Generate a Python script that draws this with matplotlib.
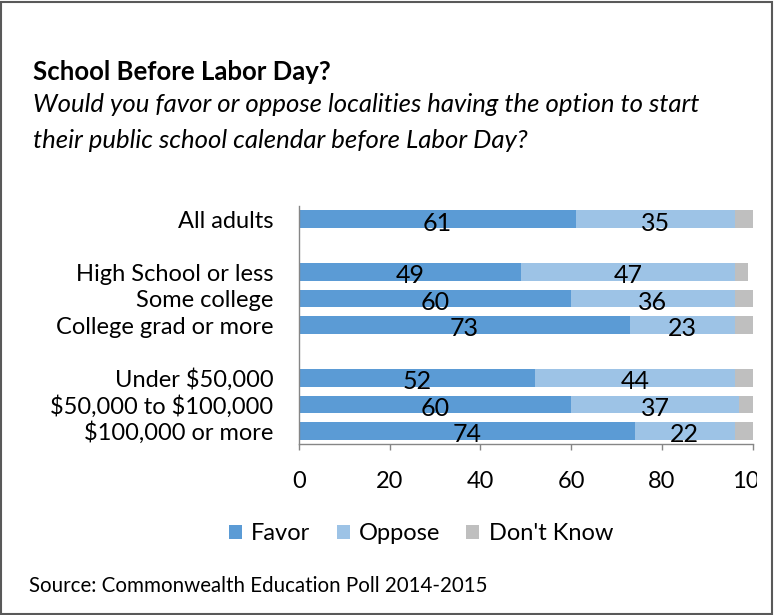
import matplotlib.pyplot as plt
import numpy as np
from matplotlib.patches import Rectangle
from matplotlib.transforms import Bbox, TransformedBbox

plt.rcParams['font.family'] = ['Lato', 'DejaVu Sans']

# data
categories = ['All adults', 'High School or less', 'Some college', 'College grad or more',
              'Under \\$50,000', '\\$50,000 to \\$100,000', '\\$100,000 or more']
slots = [0, 2, 3, 4, 6, 7, 8]  # blank slot between groups
favor = [61, 49, 60, 73, 52, 60, 74]
oppose = [35, 47, 36, 23, 44, 37, 22]
dont_know = [4, 3, 4, 5, 4, 3, 4]
xticks = [0, 20, 40, 60, 80, 100]

c_fav = '#5B9BD5'
c_opp = '#9DC3E6'
c_dk = '#BFBFBF'

fig = plt.figure(figsize=(7.74, 6.15), dpi=100)
W, H = 774, 615
ax = fig.add_axes([299 / W, 1 - 444 / H, (752.7 - 299) / W, (444 - 206) / H])

y = np.array(slots)
fav = np.array(favor)
opp = np.array(oppose)
dk = np.array(dont_know)
h = 0.66
ax.barh(y, fav, height=h, color=c_fav, label='Favor')
ax.barh(y, opp, left=fav, height=h, color=c_opp, label='Oppose')
ax.barh(y, dk, left=fav + opp, height=h, color=c_dk, label="Don't Know")

# labels sit a little low, spilling under the bar like the original
for yi, f, o in zip(y, fav, opp):
    ax.text(f / 2, yi + 0.43, str(f), ha='center', va='baseline', fontsize=18, color='black')
    ax.text(f + o / 2, yi + 0.43, str(o), ha='center', va='baseline', fontsize=18, color='black')

ax.set_ylim(8.5, -0.5)
ax.set_xlim(0, 100)
ax.set_yticks(y)
ax.set_yticklabels(categories, fontsize=17)
ax.tick_params(axis='y', length=0, pad=18.5)
ax.set_xticks(xticks)
ax.set_xticklabels([str(v) for v in xticks], fontsize=17)
ax.tick_params(axis='x', length=4.3, width=1, color='#868686', pad=15)
for s in ['top', 'right']:
    ax.spines[s].set_visible(False)
for s in ['left', 'bottom']:
    ax.spines[s].set_color('#868686')
    ax.spines[s].set_linewidth(1)

# last tick label is cut off at the chart edge in the original
clip = TransformedBbox(Bbox([[0, 0], [757 / W, 1]]), fig.transFigure)
for lab in ax.get_xticklabels():
    lab.set_clip_box(clip)
    lab.set_clip_on(True)

fig.legend(loc='center', bbox_to_anchor=(421 / W, 1 - 534 / H), ncol=3, frameon=False,
           fontsize=17, handlelength=0.55, handleheight=0.55, columnspacing=1.1, handletextpad=0.4)

fig.text(33 / W, 1 - 72 / H, 'School Before Labor Day?', fontsize=18.5, fontweight='bold', va='center')
fig.text(33 / W, 1 - 104 / H, 'Would you favor or oppose localities having the option to start',
         fontsize=18.5, style='italic', va='center')
fig.text(33 / W, 1 - 140 / H, 'their public school calendar before Labor Day?',
         fontsize=18.5, style='italic', va='center')
fig.text(29 / W, 1 - 586 / H, 'Source: Commonwealth Education Poll 2014-2015', fontsize=14.8, va='center')

fig.patches.append(Rectangle((1 / W, 1 / H), 1 - 3 / W, 1 - 3 / H, transform=fig.transFigure,
                             fill=False, edgecolor='#595959', linewidth=1.5))

fig.savefig('out.png', dpi=100)
